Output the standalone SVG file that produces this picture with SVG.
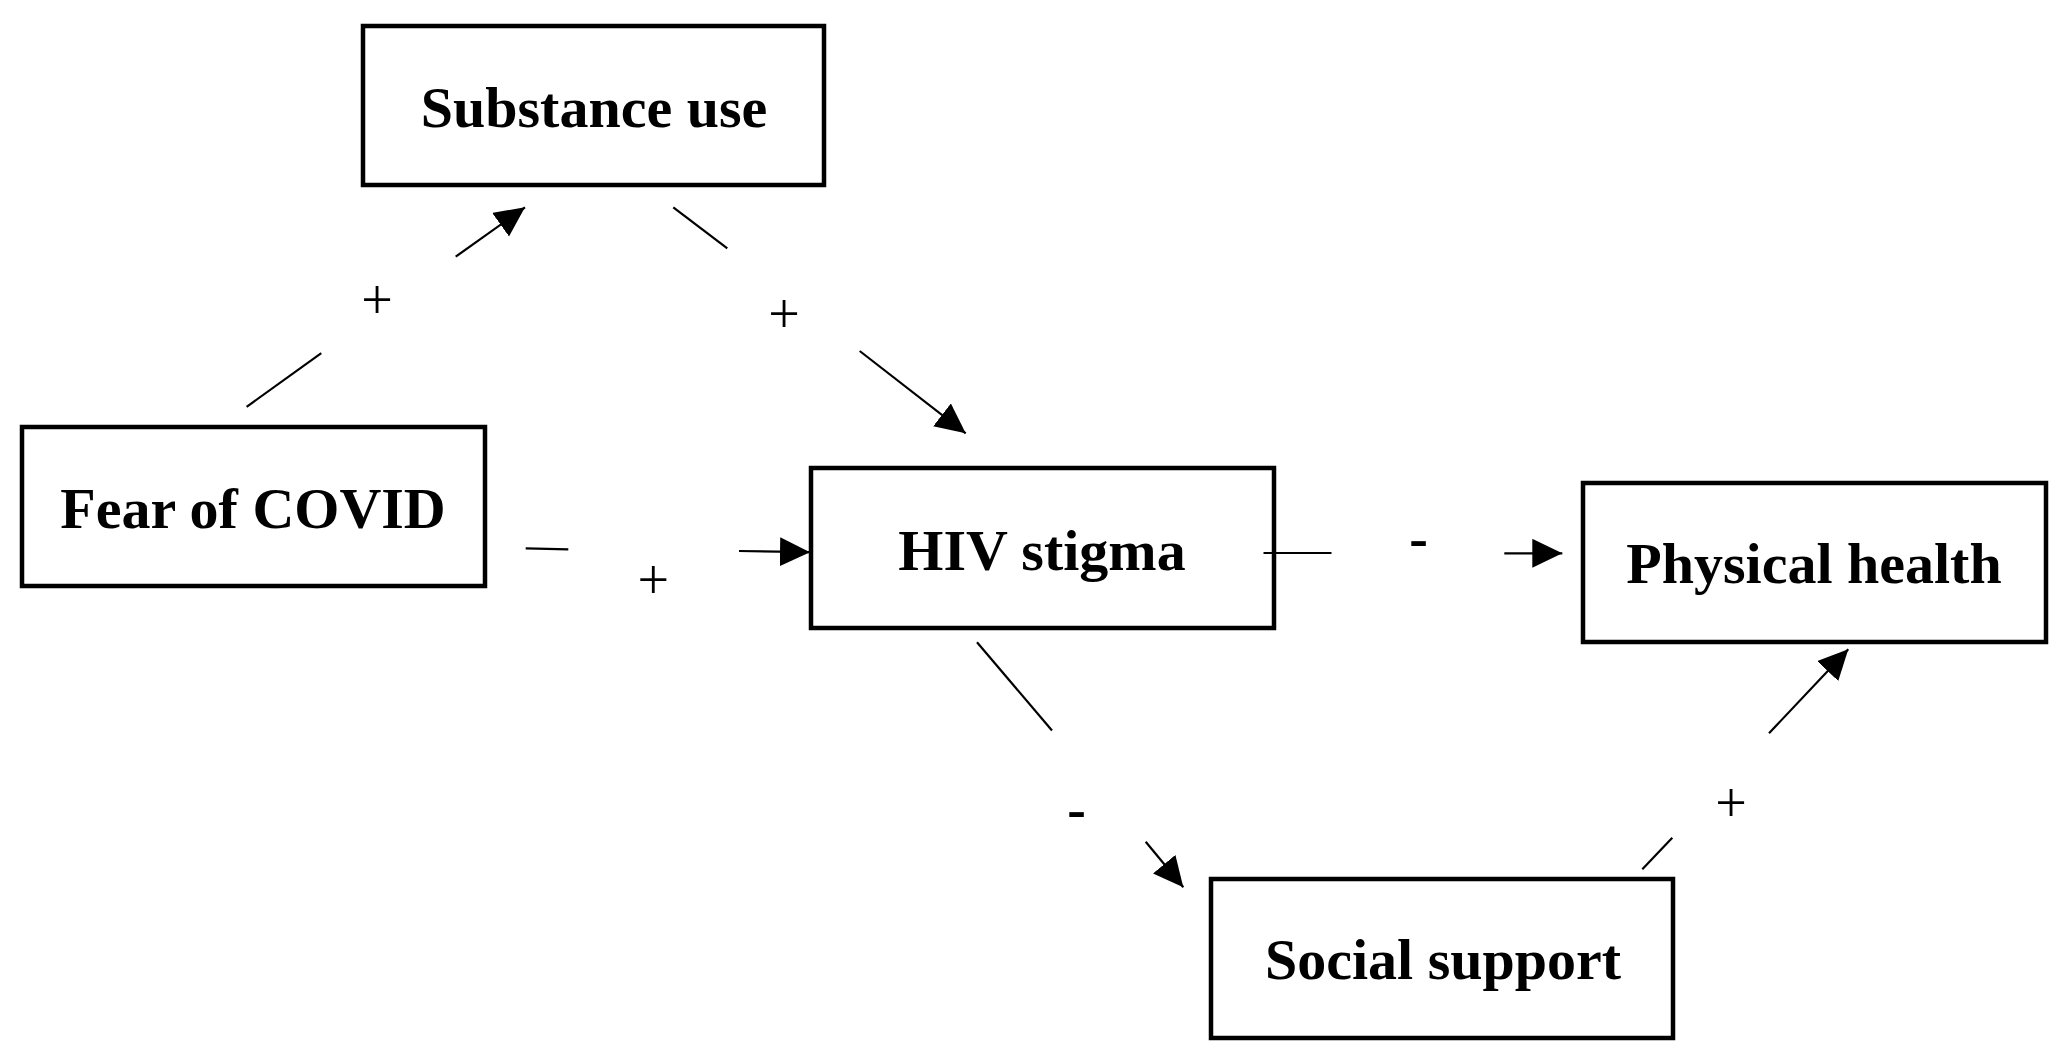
<svg xmlns="http://www.w3.org/2000/svg" width="2055" height="1063" viewBox="0 0 2055 1063">
<style>
.box{fill:#fff;stroke:#000;stroke-width:4.5}
.lbl{font-family:"Liberation Serif","Times New Roman",serif;font-weight:bold;font-size:58px;text-anchor:middle;fill:#000}
.c{stroke:#000;stroke-width:2.2;fill:none}
.sgn{font-family:"Liberation Serif","Times New Roman",serif;font-size:56px;text-anchor:middle;fill:#000}
.neg{font-family:"Liberation Serif","Times New Roman",serif;font-weight:bold;font-size:56px;text-anchor:middle;fill:#000}
</style>
<defs>
<marker id="ah" markerUnits="userSpaceOnUse" markerWidth="32" markerHeight="32" refX="30" refY="14.5" orient="auto" viewBox="0 0 32 32">
<path d="M0,0 L30,14.5 L0,29 Z" fill="#000"/>
</marker>
</defs>
<rect width="2055" height="1063" fill="#fff"/>
<g id="substance-use"><rect class="box" x="363" y="26" width="461" height="159"/><text class="lbl" x="594" y="127">Substance use</text></g>
<g id="fear-of-covid"><rect class="box" x="22" y="427" width="463" height="159"/><text class="lbl" x="253" y="528">Fear of COVID</text></g>
<g id="hiv-stigma"><rect class="box" x="811" y="468" width="463" height="160"/><text class="lbl" x="1042" y="570">HIV stigma</text></g>
<g id="physical-health"><rect class="box" x="1583" y="483" width="463" height="159"/><text class="lbl" x="1814" y="583">Physical health</text></g>
<g id="social-support"><rect class="box" x="1211" y="879" width="462" height="159"/><text class="lbl" x="1443" y="979">Social support</text></g>
<g id="connectors">
<line class="c" x1="246.6" y1="406.8" x2="321.3" y2="353.2"/>
<line class="c" x1="455.7" y1="256.7" x2="525" y2="207.3" marker-end="url(#ah)"/>
<text class="sgn" x="377" y="318.5">+</text>
<line class="c" x1="673.3" y1="207.3" x2="727.3" y2="248.3"/>
<line class="c" x1="859.7" y1="351" x2="965.7" y2="433.3" marker-end="url(#ah)"/>
<text class="sgn" x="784" y="333">+</text>
<line class="c" x1="525.7" y1="548.3" x2="568.3" y2="549.3"/>
<line class="c" x1="739" y1="551" x2="810" y2="552.2" marker-end="url(#ah)"/>
<text class="sgn" x="653.3" y="598.5">+</text>
<line class="c" x1="1263.5" y1="553" x2="1331.5" y2="553"/>
<line class="c" x1="1504.3" y1="553.3" x2="1562.3" y2="553.3" marker-end="url(#ah)"/>
<text class="neg" x="1418.5" y="557">-</text>
<line class="c" x1="977" y1="642.3" x2="1052" y2="730.5"/>
<line class="c" x1="1145.7" y1="841.7" x2="1183.3" y2="887.3" marker-end="url(#ah)"/>
<text class="neg" x="1076.5" y="828">-</text>
<line class="c" x1="1642.3" y1="869.3" x2="1672.3" y2="837.7"/>
<line class="c" x1="1769" y1="733.3" x2="1848.3" y2="649.3" marker-end="url(#ah)"/>
<text class="sgn" x="1731" y="822">+</text>
</g>
</svg>
